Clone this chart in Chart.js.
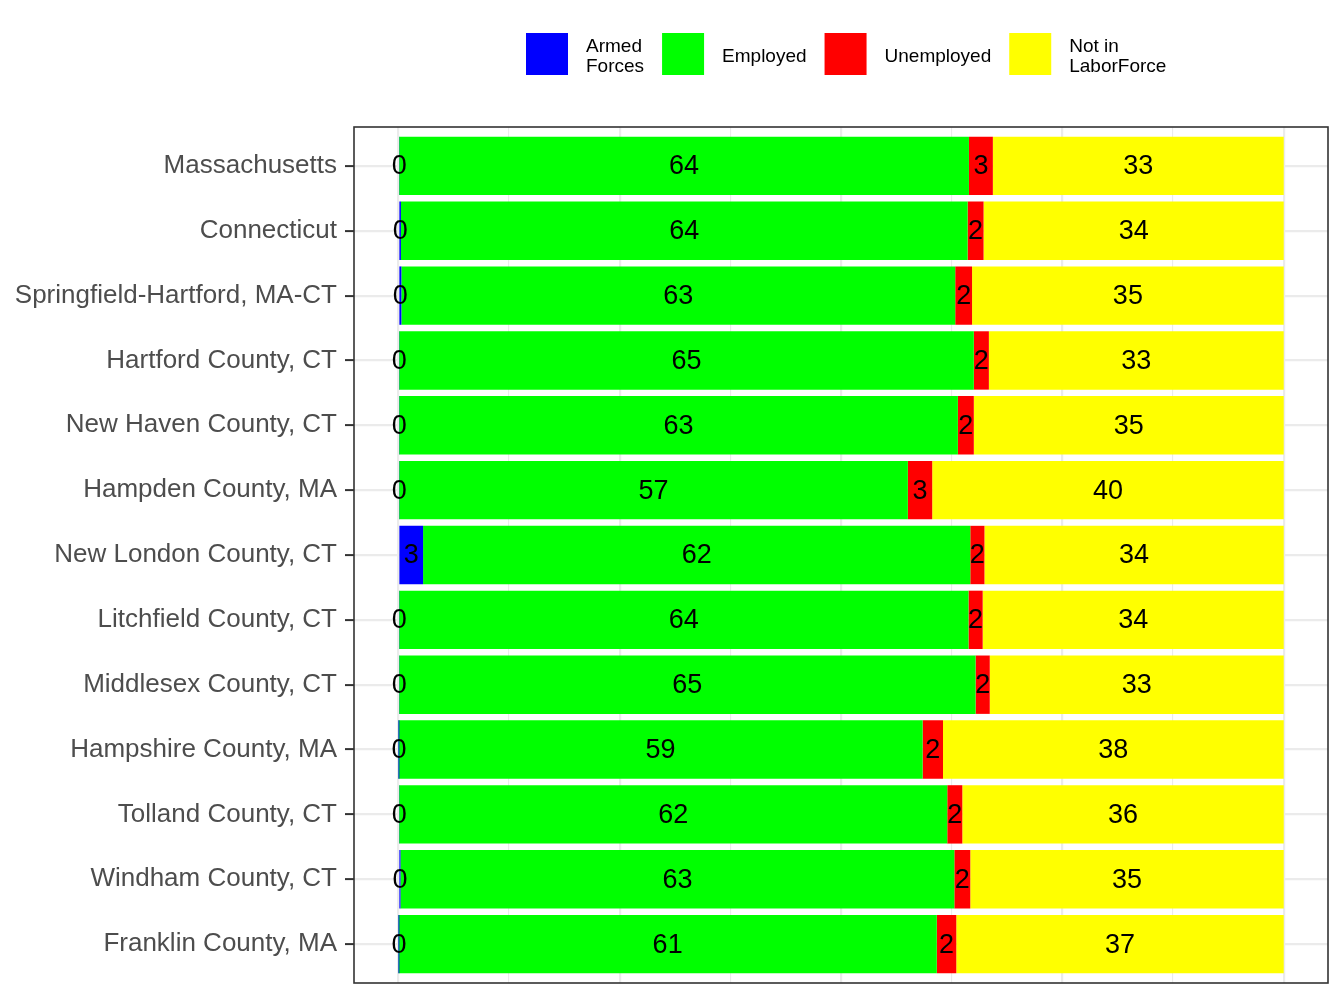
<!DOCTYPE html>
<html>
<head>
<meta charset="utf-8">
<script src="https://cdn.jsdelivr.net/npm/chart.js@4/dist/chart.umd.min.js"></script>
<style>
  html, body { margin: 0; padding: 0; background: #fff; }
  #wrap { width: 1344px; height: 1008px; }
</style>
</head>
<body>
<div id="wrap"><canvas id="myChart" width="1344" height="1008"></canvas></div>
<script>
const regions = [
  "Massachusetts",
  "Connecticut",
  "Springfield-Hartford, MA-CT",
  "Hartford County, CT",
  "New Haven County, CT",
  "Hampden County, MA",
  "New London County, CT",
  "Litchfield County, CT",
  "Middlesex County, CT",
  "Hampshire County, MA",
  "Tolland County, CT",
  "Windham County, CT",
  "Franklin County, MA",
];

// percent of population 16+
const armedForces = [0.1, 0.3, 0.35, 0.1, 0.1, 0.1, 2.8, 0.1, 0.1, 0.02, 0.1, 0.25, 0.02];
const employed = [64.35, 64.0, 62.55, 64.9, 63.1, 57.45, 61.8, 64.3, 65.1, 59.2, 61.9, 62.55, 60.8];
const unemployed = [2.7, 1.8, 1.9, 1.7, 1.8, 2.75, 1.6, 1.6, 1.6, 2.3, 1.7, 1.8, 2.2];
const notInLaborForce = [32.85, 33.9, 35.2, 33.3, 35.0, 39.7, 33.8, 34.0, 33.2, 38.48, 36.3, 35.4, 36.98];

const seriesNames = [["Armed", "Forces"], ["Employed"], ["Unemployed"], ["Not in", "LaborForce"]];
const seriesColors = ["#0000ff", "#00ff00", "#ff0000", "#ffff00"];
const xGridTicks = [0, 12.5, 25, 37.5, 50, 62.5, 75, 87.5, 100];

const FONT = "'Liberation Sans', Arial, sans-serif";

const toPoints = (arr) => arr.map((v, i) => ({ x: v, y: i }));

// numbers in the middle of every segment
const segmentLabels = {
  id: "segmentLabels",
  afterDatasetsDraw(chart) {
    const ctx = chart.ctx;
    ctx.save();
    ctx.font = "27px " + FONT;
    ctx.fillStyle = "#000";
    ctx.textAlign = "center";
    ctx.textBaseline = "middle";
    chart.data.datasets.forEach((ds, d) => {
      chart.getDatasetMeta(d).data.forEach((bar, i) => {
        const cx = (bar.x + bar.base) / 2;
        ctx.fillText(String(Math.round(ds.data[i].x)), cx, bar.y + 1);
      });
    });
    ctx.restore();
  },
};

// ggplot-like panel border + legend on top
const panelAndLegend = {
  id: "panelAndLegend",
  afterDraw(chart) {
    const ctx = chart.ctx;
    const a = chart.chartArea;
    ctx.save();
    ctx.strokeStyle = "#333333";
    ctx.lineWidth = 1.6;
    ctx.strokeRect(a.left, a.top, a.right - a.left, a.bottom - a.top);

    ctx.font = "19px " + FONT;
    ctx.textBaseline = "middle";
    ctx.textAlign = "left";
    let x = 526;
    const cy = 54;
    chart.data.datasets.forEach((ds, d) => {
      const lines = seriesNames[d];
      ctx.fillStyle = ds.backgroundColor;
      ctx.fillRect(x, cy - 21, 42, 42);
      ctx.fillStyle = "#000";
      const tx = x + 60;
      let w = 0;
      lines.forEach((t, k) => {
        const ty = cy + 3 + (k - (lines.length - 1) / 2) * 19.5;
        ctx.fillText(t, tx, ty);
        w = Math.max(w, ctx.measureText(t).width);
      });
      x = tx + w + 18;
    });
    ctx.restore();
  },
};

new Chart(document.getElementById("myChart"), {
  type: "bar",
  data: {
    datasets: [
      { label: "Armed Forces", data: toPoints(armedForces), backgroundColor: seriesColors[0] },
      { label: "Employed", data: toPoints(employed), backgroundColor: seriesColors[1] },
      { label: "Unemployed", data: toPoints(unemployed), backgroundColor: seriesColors[2] },
      { label: "Not in LaborForce", data: toPoints(notInLaborForce), backgroundColor: seriesColors[3] },
    ],
  },
  options: {
    indexAxis: "y",
    responsive: false,
    animation: false,
    devicePixelRatio: 1,
    barPercentage: 0.9,
    categoryPercentage: 1,
    layout: { padding: { top: 127, right: 16, left: 0, bottom: 0 } },
    plugins: { legend: { display: false }, tooltip: { enabled: false } },
    scales: {
      x: {
        type: "linear",
        stacked: true,
        min: -5,
        max: 105,
        afterBuildTicks: (scale) => { scale.ticks = xGridTicks.map((v) => ({ value: v })); },
        afterFit: (scale) => { scale.height = 25; },
        ticks: { display: false },
        border: { display: false },
        grid: {
          drawTicks: false,
          color: "#ebebeb",
          lineWidth: (c) => (c.tick && c.tick.value % 25 === 0 ? 2.2 : 1.1),
        },
      },
      y: {
        type: "linear",
        stacked: true,
        reverse: true,
        offset: false,
        min: -0.6,
        max: 12.6,
        afterBuildTicks: (scale) => { scale.ticks = regions.map((r, i) => ({ value: i })); },
        afterFit: (scale) => { scale.width = 354; },
        border: { display: false },
        grid: {
          offset: false,
          color: "#ebebeb",
          lineWidth: 2.2,
          drawTicks: true,
          tickLength: 9,
          tickColor: "#333333",
          tickWidth: 2,
        },
        ticks: {
          autoSkip: false,
          padding: 8,
          color: "#4d4d4d",
          font: { family: FONT, size: 26 },
          callback: (v) => regions[v],
        },
      },
    },
  },
  plugins: [segmentLabels, panelAndLegend],
});
</script>
</body>
</html>
